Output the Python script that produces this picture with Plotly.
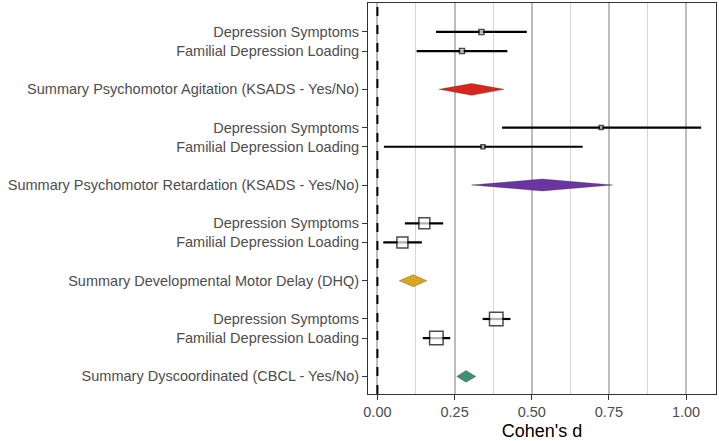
import plotly.graph_objects as go

# ---------------- data ----------------
row_labels = [
    "Depression Symptoms", "Familial Depression Loading",
    "Summary Psychomotor Agitation (KSADS - Yes/No)",
    "Depression Symptoms", "Familial Depression Loading",
    "Summary Psychomotor Retardation (KSADS - Yes/No)",
    "Depression Symptoms", "Familial Depression Loading",
    "Summary Developmental Motor Delay (DHQ)",
    "Depression Symptoms", "Familial Depression Loading",
    "Summary Dyscoordinated (CBCL - Yes/No)",
]
row_pos = [19, 18, 16, 14, 13, 11, 9, 8, 6, 4, 3, 1]

# study-level estimates (Depression Symptoms, Familial Depression Loading) per group
study_pos = [19, 18, 14, 13, 9, 8, 4, 3]
study_d = [0.337, 0.274, 0.725, 0.342, 0.152, 0.081, 0.385, 0.191]
study_lo = [0.190, 0.127, 0.404, 0.021, 0.089, 0.019, 0.341, 0.147]
study_hi = [0.484, 0.421, 1.049, 0.665, 0.213, 0.144, 0.431, 0.236]

# summary estimates
summary_pos = [16, 11, 6, 1]
summary_d = [0.305, 0.534, 0.116, 0.287]
summary_lo = [0.200, 0.305, 0.071, 0.257]
summary_hi = [0.410, 0.762, 0.160, 0.319]

x_ticks = [0.0, 0.25, 0.5, 0.75, 1.0]
x_tick_labels = ["0.00", "0.25", "0.50", "0.75", "1.00"]
null_effect = 0.0

# ---------------- styles ----------------
square_sizes = [5, 5, 4, 4, 11, 11, 13.5, 13.5]
summary_colors = ["#D7261E", "#6A35A0", "#DAA520", "#3F8F73"]
diamond_half = 0.31
font_family = "Liberation Sans, Arial, sans-serif"
text_color = "#4d4d4d"

fig = go.Figure()

# confidence intervals
for p, lo, hi in zip(study_pos, study_lo, study_hi):
    fig.add_trace(go.Scatter(x=[lo, hi], y=[p, p], mode="lines",
                             line=dict(color="black", width=2.2),
                             showlegend=False, hoverinfo="skip"))

# squares
fig.add_trace(go.Scatter(x=study_d, y=study_pos, mode="markers",
                         marker=dict(symbol="square", size=square_sizes,
                                     color="white",
                                     line=dict(color="black", width=1.5)),
                         showlegend=False))

# diamonds
for p, d, lo, hi, c in zip(summary_pos, summary_d, summary_lo, summary_hi, summary_colors):
    fig.add_trace(go.Scatter(
        x=[lo, d, hi, d, lo],
        y=[p, p + diamond_half, p, p - diamond_half, p],
        mode="lines", fill="toself", fillcolor=c,
        line=dict(color="rgba(40,40,40,0.6)", width=0.5),
        showlegend=False, hoverinfo="skip"))

# null effect line
fig.add_shape(type="line", xref="x", yref="paper", x0=null_effect, x1=null_effect,
              y0=0, y1=1, line=dict(color="black", width=2, dash="dash"), layer="above")

fig.update_layout(
    template="none",
    width=719, height=441,
    margin=dict(l=368, r=3, t=3, b=47),
    paper_bgcolor="white", plot_bgcolor="white",
    font=dict(family=font_family, size=14.5, color=text_color),
)
fig.update_xaxes(
    automargin=False,
    range=[-0.0305, 1.097],
    tickvals=x_ticks, ticktext=x_tick_labels,
    showgrid=True, gridcolor="#bdbdbd", gridwidth=1.6,
    minor=dict(dtick=0.125, tick0=0, showgrid=True, gridcolor="#d6d6d6", gridwidth=1),
    zeroline=False,
    showline=True, mirror=True, linecolor="#333333", linewidth=1,
    ticks="outside", ticklen=5, tickcolor="#333333", tickwidth=1,
    tickfont=dict(size=14.5, color=text_color),
    title=dict(text="Cohen's d", font=dict(size=18, color="black"), standoff=4),
)
fig.update_yaxes(
    automargin=False,
    range=[0.08, 20.51],
    tickvals=row_pos, ticktext=row_labels,
    showgrid=False, zeroline=False,
    showline=True, mirror=True, linecolor="#333333", linewidth=1,
    ticks="outside", ticklen=5, tickcolor="#333333", tickwidth=1,
    tickfont=dict(size=14.5, color=text_color),
)

fig.write_html("out.html",
               config={"displayModeBar": False},
               post_script="document.body.style.margin='0';document.body.style.overflow='hidden';")
